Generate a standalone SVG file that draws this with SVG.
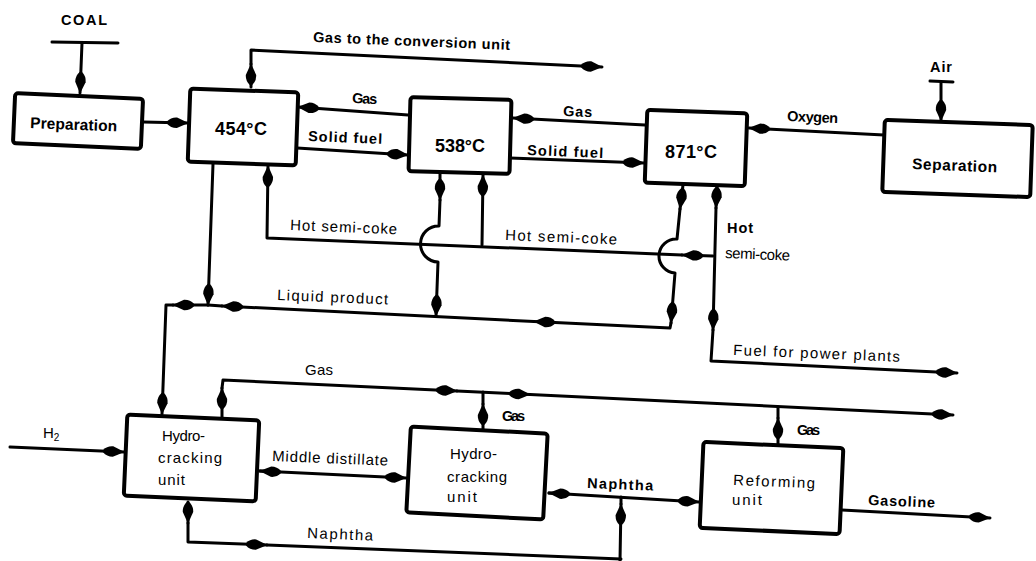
<svg xmlns="http://www.w3.org/2000/svg" width="1036" height="561" viewBox="0 0 1036 561">
<style>
.box{fill:#fff;stroke:#000;stroke-width:4}
.ln{fill:none;stroke:#000;stroke-width:3;stroke-linejoin:round;stroke-linecap:round}
.a{marker-end:url(#ah)}
text{font-family:"Liberation Sans",Arial,sans-serif;font-size:15px;fill:#000}
.b{font-weight:bold;font-size:14.5px}
.t{font-size:18px;font-weight:bold}
</style>
<defs>
<marker id="ah" viewBox="-23 -6 24 12" refX="0" refY="0" markerWidth="24" markerHeight="12" markerUnits="userSpaceOnUse" orient="auto">
<path d="M0.5,0 L-11,-5.2 Q-17,-5.5 -21,-1.2 L-21,1.2 Q-17,5.5 -11,5.2 Z" fill="#000"/>
</marker>
</defs>
<rect width="1036" height="561" fill="#fff"/>

<g id="connectors">
<path class="ln" d="M52,42 L118,43"/>
<path class="ln a" d="M82,43 L80,93"/>
<path class="ln a" d="M143,122 L188,123"/>
<path class="ln a" d="M251,87 L251,64"/>
<path class="ln a" d="M251,64 L251,50 L602,67"/>
<path class="ln a" d="M408,115 L298,107"/>
<path class="ln a" d="M297,148 L408,155"/>
<path class="ln a" d="M645,125 L513,118"/>
<path class="ln a" d="M510,158 L644,163"/>
<path class="ln a" d="M884,135 L749,128"/>
<path class="ln" d="M930,81 L953,82"/>
<path class="ln a" d="M941,82 L941,121"/>
<path class="ln a" d="M213,164 L208,305"/>
<path class="ln a" d="M208,305 L173,305"/>
<path class="ln a" d="M173,305 L166,305 L162,414"/>
<path class="ln a" d="M671,323 L670,328 L534,321.5"/>
<path class="ln a" d="M534,321.5 L222,306"/>
<path class="ln" d="M222,306 L208,305"/>
<path class="ln a" d="M440,173 L440,200"/>
<path class="ln a" d="M440,200 L439,226 A18,18 0 0 0 438,262 L436,316"/>
<path class="ln a" d="M482,245 L483,175"/>
<path class="ln a" d="M713,256 L682,255"/>
<path class="ln a" d="M682,255 L267,238 L268,166"/>
<path class="ln a" d="M683,185 L680,209"/>
<path class="ln a" d="M680,209 L677,239 A17,17 0 0 0 675,273 L671,323"/>
<path class="ln a" d="M717,186 L716,208"/>
<path class="ln a" d="M716,208 L713,330"/>
<path class="ln a" d="M713,330 L711,361 L957,373"/>
<path class="ln a" d="M222,420 L222,388"/>
<path class="ln a" d="M222,388 L223,380 L457,391"/>
<path class="ln a" d="M457,391 L530,394.5"/>
<path class="ln a" d="M530,394.5 L953,415"/>
<path class="ln a" d="M483,429 L483,404"/>
<path class="ln" d="M483,404 L483,392"/>
<path class="ln a" d="M778,447 L778,418"/>
<path class="ln" d="M778,418 L778,407"/>
<path class="ln a" d="M10,447 L124,452"/>
<path class="ln a" d="M278,472 L260,471"/>
<path class="ln a" d="M260,471 L406,478"/>
<path class="ln a" d="M567,494 L549,493"/>
<path class="ln a" d="M549,493 L699,502"/>
<path class="ln a" d="M620,561 L621,504"/>
<path class="ln" d="M621,504 L621,497"/>
<path class="ln a" d="M188,502 L188,523"/>
<path class="ln a" d="M188,523 L188,542 L267,545"/>
<path class="ln" d="M267,545 L621,559"/>
<path class="ln a" d="M842,510 L990,518"/>
</g>

<g id="labels">
<text class="b" x="61" y="25" textLength="46">COAL</text>
<text class="b" x="313" y="42" textLength="197" transform="rotate(2.3 313 42)">Gas to the conversion unit</text>
<text class="b" x="352" y="103" textLength="25" transform="rotate(2.3 352 103)">Gas</text>
<text class="b" x="308" y="141" textLength="74" transform="rotate(2.3 308 141)">Solid fuel</text>
<text class="b" x="563" y="116" textLength="29" transform="rotate(2.3 563 116)">Gas</text>
<text class="b" x="527" y="155" textLength="76" transform="rotate(2.3 527 155)">Solid fuel</text>
<text class="b" x="787" y="121" textLength="51" transform="rotate(2.3 787 121)">Oxygen</text>
<text class="b" x="930" y="72" textLength="22">Air</text>
<text x="290" y="230" textLength="107" transform="rotate(2.3 290 230)">Hot semi-coke</text>
<text x="505" y="240" textLength="112" transform="rotate(2.3 505 240)">Hot semi-coke</text>
<text class="b" x="727" y="233" textLength="26">Hot</text>
<text x="725" y="258" textLength="65" transform="rotate(2.3 725 258)">semi-coke</text>
<text x="277" y="300" textLength="111" transform="rotate(2.3 277 300)">Liquid product</text>
<text x="733" y="355" textLength="167" transform="rotate(2.3 733 355)">Fuel for power plants</text>
<text x="305" y="375" textLength="28">Gas</text>
<text x="43" y="438">H<tspan font-size="10" dy="3">2</tspan></text>
<text x="272" y="461" textLength="116" transform="rotate(2.3 272 461)">Middle distillate</text>
<text class="b" x="502" y="421" textLength="23">Gas</text>
<text class="b" x="587" y="488" textLength="66" transform="rotate(2.3 587 488)">Naphtha</text>
<text x="307" y="538" textLength="66" transform="rotate(2.3 307 538)">Naphtha</text>
<text class="b" x="797" y="435" textLength="23">Gas</text>
<text class="b" x="868" y="505" textLength="67" transform="rotate(2.3 868 505)">Gasoline</text>
</g>

<g id="preparation">
<rect class="box" x="14" y="96" width="128" height="50" rx="3" transform="rotate(2.5 78 121)"/>
<text class="b" x="30" y="128" style="font-size:15.5px" textLength="87" transform="rotate(2.3 30 128)">Preparation</text>
</g>
<g id="r454">
<rect class="box" x="189" y="90.5" width="108" height="73" rx="3" transform="rotate(2 243 127)"/>
<text class="t" x="215" y="135" textLength="52">454°C</text>
</g>
<g id="r538">
<rect class="box" x="409.5" y="98.5" width="101" height="74" rx="3" transform="rotate(1.5 460 135.5)"/>
<text class="t" x="435" y="152" textLength="50">538°C</text>
</g>
<g id="r871">
<rect class="box" x="646" y="111.5" width="100" height="73" rx="3" transform="rotate(2 696 148)"/>
<text class="t" x="665" y="158" textLength="52">871°C</text>
</g>
<g id="separation">
<rect class="box" x="883.5" y="122.5" width="148" height="72" rx="3" transform="rotate(2 957.5 158.5)"/>
<text class="b" x="912" y="169" style="font-size:15.5px" textLength="85" transform="rotate(2.3 912 169)">Separation</text>
</g>
<g id="hydrocracking1">
<rect class="box" x="125.5" y="417.5" width="132" height="81" rx="3" transform="rotate(2.5 191.5 458)"/>
<text x="162" y="441" textLength="43">Hydro-</text>
<text x="158" y="463" textLength="64">cracking</text>
<text x="158" y="485" textLength="27">unit</text>
</g>
<g id="hydrocracking2">
<rect class="box" x="408.5" y="430" width="137" height="86" rx="3" transform="rotate(3 477 473)"/>
<text x="450" y="459" textLength="47">Hydro-</text>
<text x="447" y="482" textLength="60">cracking</text>
<text x="447" y="502" textLength="30">unit</text>
</g>
<g id="reforming">
<rect class="box" x="701.5" y="445" width="140" height="86" rx="3" transform="rotate(2.5 771.5 488)"/>
<text x="733" y="485" textLength="82" transform="rotate(2.3 733 485)">Reforming</text>
<text x="732" y="505" textLength="30">unit</text>
</g>
</svg>
